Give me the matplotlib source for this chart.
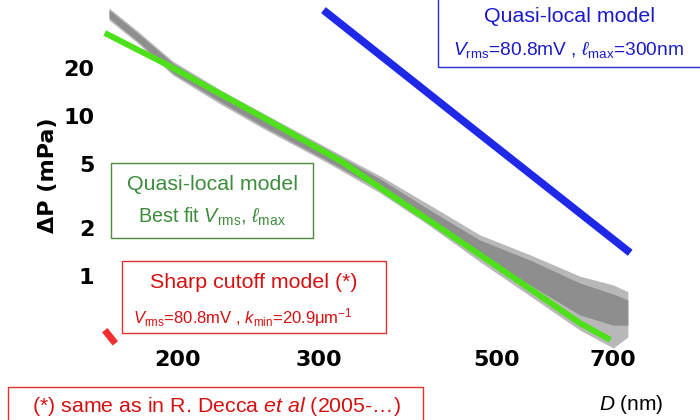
import matplotlib
matplotlib.use('Agg')
import matplotlib.pyplot as plt
from matplotlib.patches import Rectangle
from matplotlib.ticker import FixedLocator, NullLocator, FixedFormatter

plt.rcParams['font.family'] = ['Liberation Sans', 'DejaVu Sans']
plt.rcParams['mathtext.fontset'] = 'custom'
plt.rcParams['mathtext.rm'] = 'Liberation Sans'
plt.rcParams['mathtext.it'] = 'Liberation Sans:italic'

# measured data band (D in nm, P in mPa)
d_meas = [164, 178, 197, 226, 255, 308, 358, 413, 477, 551, 636, 700, 730]
p_outer_hi = [47.4, 34.1, 22.1, 14.6, 10.5, 6.32, 4.23, 2.78, 1.81, 1.36, 1.00, 0.881, 0.80]
p_outer_lo = [39.9, 28.7, 18.1, 11.9, 8.43, 5.09, 3.31, 2.06, 1.23, 0.752, 0.46, 0.356, 0.416]
p_inner_hi = [46.1, 33.1, 21.5, 14.2, 10.2, 6.15, 4.05, 2.59, 1.68, 1.26, 0.906, 0.774, 0.709]
p_inner_lo = [41.1, 29.5, 18.6, 12.3, 8.68, 5.24, 3.46, 2.18, 1.36, 0.88, 0.572, 0.494, 0.494]

# quasi-local best fit (green)
d_fit = [162, 194, 255, 321, 358, 413, 477, 551, 636, 694]
p_fit = [33.1, 20.9, 9.88, 5.17, 3.56, 2.21, 1.36, 0.832, 0.509, 0.40]

# quasi-local, lmax = 300 nm (blue)
d_ql = [304, 464, 735]
p_ql = [46.0, 8.6, 1.40]

# sharp cutoff model (red), only a bit visible
d_sharp = [162, 167]
p_sharp = [0.46, 0.38]

xticks = [200, 300, 500, 700]
yticks = [1, 2, 5, 10, 20]

fig = plt.figure(figsize=(7, 4.2), dpi=100)
ax = fig.add_axes([100/700, 1-350/420, 540/700, 350/420])
ax.set_xscale('log')
ax.set_yscale('log')

ax.fill_between(d_meas, p_outer_lo, p_outer_hi, color='#b8b8b8', lw=0)
ax.fill_between(d_meas, p_inner_lo, p_inner_hi, color='#8e8e8e', lw=0)
ax.plot(d_fit, p_fit, color='#4ee01a', lw=4.3, solid_capstyle='butt')
ax.plot(d_ql, p_ql, color='#1e28e6', lw=5.5, solid_capstyle='butt')
ax.plot(d_sharp, p_sharp, color='#f03030', lw=5, solid_capstyle='butt')

ax.set_xlim(159.8, 756)
ax.set_ylim(0.3456, 53.2)
for s in ax.spines.values():
    s.set_visible(False)
ax.xaxis.set_major_locator(FixedLocator(xticks))
ax.xaxis.set_major_formatter(FixedFormatter([str(t) for t in xticks]))
ax.xaxis.set_minor_locator(NullLocator())
ax.yaxis.set_major_locator(FixedLocator(yticks))
ax.yaxis.set_major_formatter(FixedFormatter([str(t) for t in yticks]))
ax.yaxis.set_minor_locator(NullLocator())
ax.tick_params(length=0, labelsize=16, pad=0)
ax.tick_params(axis='y', pad=4)
for lab in ax.get_xticklabels() + ax.get_yticklabels():
    lab.set_fontweight('bold')
    lab.set_family('DejaVu Sans')
ax.set_ylabel('ΔP (mPa)', fontsize=16, fontweight='bold', family='DejaVu Sans')
ax.yaxis.set_label_coords(-0.078, 0.5)


def box(x0, y0, x1, y1, color):
    fig.add_artist(Rectangle((x0/700, 1-y1/420), (x1-x0)/700, (y1-y0)/420,
                             transform=fig.transFigure, fill=True, facecolor='white',
                             edgecolor=color, lw=1))


def txt(x, y, s, color, size):
    fig.text(x/700, 1-y/420, s, color=color, fontsize=size, ha='center', va='center')


box(438, -2, 702, 67, '#2a2ad0')
txt(569, 17, 'Quasi-local model', '#1a1acc', 15.4)
txt(569, 50, r'$V_{\rm rms}$=80.8mV , $\ell_{\rm max}$=300nm', '#1a1acc', 13.8)

box(111, 163, 313, 238, '#4c8c3c')
txt(212, 185, 'Quasi-local model', '#3c8c3c', 15.4)
txt(212, 217, r'Best fit $V_{\rm rms}$, $\ell_{\rm max}$', '#3c8c3c', 14.2)

box(122, 261, 386, 333, '#e03030')
txt(254, 283, 'Sharp cutoff model (*)', '#d41010', 15.4)
txt(243, 318, r'$V_{\rm rms}$=80.8mV , $k_{\rm min}$=20.9μm$^{{-}1}$', '#d41010', 12)

box(8, 387, 423, 425, '#e03030')
txt(216, 406, r'(*) same as in R. Decca $et\ al$ (2005-…)', '#d41010', 15.4)

txt(631, 405, r'$D$ (nm)', 'black', 15)

fig.savefig('out.png', dpi=100)
